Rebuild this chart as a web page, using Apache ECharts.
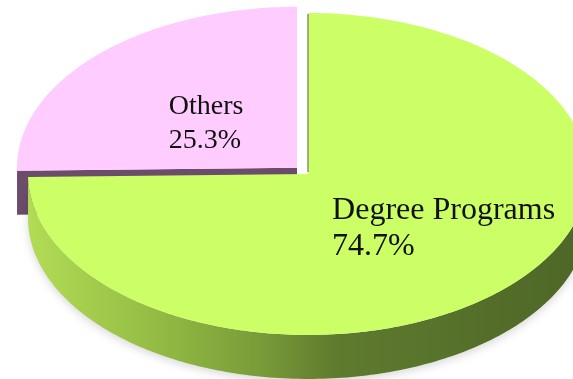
<!DOCTYPE html>
<html>
<head>
<meta charset="utf-8">
<title>Degree Programs vs Others</title>
<script src="https://cdn.jsdelivr.net/npm/echarts@6/dist/echarts.min.js"></script>
<style>
  html, body { margin: 0; padding: 0; background: #ffffff; }
  #chart { width: 573px; height: 379px; }
</style>
</head>
<body>
<div id="chart"></div>
<script>
// Shares of the two groups (percent)
const categories = ['Degree Programs', 'Others'];
const shares = [74.7, 25.3];

// Look of each slice: top face, side face, how far it is pulled out
const topColors = ['#ccff66', '#ffccff'];
const sideColors = ['#6d8a33', '#6b4c6b'];
const explode = [0, 0.055];
// Where each label block sits, as a fraction of the radii from the slice's tip
const labelAnchor = [[0.086, 0.34], [-0.458, -0.272]];
const labelSize = [32, 28];
const labelLineHeight = [36, 34];

const total = shares.reduce((a, b) => a + b, 0);
const DEG = Math.PI / 180;

const chart = echarts.init(document.getElementById('chart'), null, { renderer: 'canvas' });

function renderItem(params, api) {
  const i = params.dataIndex;
  const W = api.getWidth();
  const H = api.getHeight();
  const cx = W * 0.5375, cy = H * 0.459;
  const rx = 280, ry = 161, depth = 44;

  let before = 0;
  for (let k = 0; k < i; k++) before += shares[k];
  const value = api.value(0);
  const a0 = -90 + 360 * before / total;
  const a1 = a0 + 360 * value / total;
  const mid = (a0 + a1) / 2 * DEG;
  const ox = explode[i] * rx * Math.cos(mid);
  const oy = explode[i] * ry * Math.sin(mid);
  const px = cx + ox, py = cy + oy;
  const pt = (deg, dy) => [px + rx * Math.cos(deg * DEG), py + ry * Math.sin(deg * DEG) + (dy || 0)];

  const arc = (from, to, dy) => {
    const out = [];
    const n = Math.max(2, Math.ceil(Math.abs(to - from)));
    for (let s = 0; s <= n; s++) out.push(pt(from + (to - from) * s / n, dy));
    return out;
  };

  const children = [];
  const base = i === 0 ? 10 : 0;

  // Front rim of the slice (only the part facing the viewer)
  const f0 = Math.max(a0, 0), f1 = Math.min(a1, 180);
  if (f1 > f0) {
    const rim = arc(f0, f1, 0).concat(arc(f1, f0, depth));
    const left = px - rx, right = px + rx;
    children.push({
      type: 'polygon',
      z2: base + 1,
      shape: { points: rim },
      style: {
        fill: i === 0 ? {
          type: 'linear', global: true, x: left, y: 0, x2: right, y2: 0,
          colorStops: [
            { offset: 0, color: '#b2dc55' },
            { offset: 0.2, color: '#98c046' },
            { offset: 0.42, color: '#789a38' },
            { offset: 0.55, color: '#5f7b2e' },
            { offset: 1, color: '#4d6626' }
          ]
        } : sideColors[i],
        shadowBlur: 8, shadowColor: 'rgba(0,0,0,0.15)', shadowOffsetY: 3
      }
    });
  }

  // Cut face along the start edge, visible when it faces forward
  const sNorm = ((a0 - 90) % 360 + 360) % 360;
  if (sNorm > 0 && sNorm < 180) {
    const e = pt(a0, 0);
    children.push({
      type: 'polygon',
      z2: base + 1,
      shape: { points: [[px, py], e, [e[0], e[1] + depth], [px, py + depth]] },
      style: { fill: sideColors[i] }
    });
  }

  // Top face
  const top = [[px, py]].concat(arc(a0, a1, 0));
  children.push({
    type: 'polygon',
    z2: base + 2,
    shape: { points: top },
    style: { fill: topColors[i] }
  });

  // Thin shaded edge where the big slice is cut at twelve o'clock
  if (i === 0) {
    const e = pt(a0, 0);
    children.push({
      type: 'line',
      z2: base + 3,
      shape: { x1: px, y1: py - 2, x2: e[0], y2: e[1] + 1 },
      style: { stroke: '#8c9c6a', lineWidth: 1.6 }
    });
  }

  // Label: name and share
  children.push({
    type: 'text',
    z2: 30,
    x: px + labelAnchor[i][0] * rx,
    y: py + labelAnchor[i][1] * ry,
    style: {
      text: categories[i] + '\n' + value.toFixed(1) + '%',
      fill: '#111111',
      font: labelSize[i] + 'px "Liberation Serif", "Times New Roman", serif',
      lineHeight: labelLineHeight[i],
      align: 'left',
      verticalAlign: 'middle'
    }
  });

  return { type: 'group', children: children };
}

chart.setOption({
  backgroundColor: '#ffffff',
  animation: false,
  series: [{
    type: 'custom',
    coordinateSystem: 'none',
    renderItem: renderItem,
    data: shares.map((v, i) => ({ name: categories[i], value: [v] }))
  }]
});
</script>
</body>
</html>
